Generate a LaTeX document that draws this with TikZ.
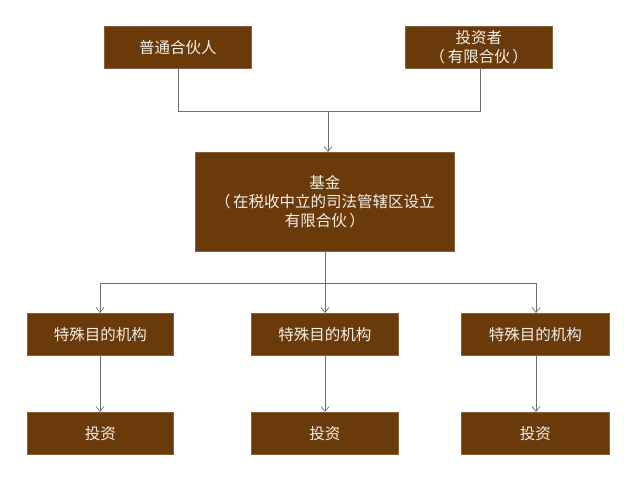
\documentclass[tikz,border=0pt]{standalone}
\usepackage{fontspec}
\setmainfont{Noto Sans CJK SC}
\usetikzlibrary{arrows.meta}
\definecolor{boxfill}{RGB}{106,58,10}
\definecolor{boxtext}{RGB}{245,240,232}
\definecolor{linec}{RGB}{110,110,110}
\begin{document}
\begin{tikzpicture}[x=1pt,y=-1pt,
  box/.style={draw=boxfill!80!white,line width=0.6pt,fill=boxfill,text=boxtext,font=\fontsize{15.5}{19}\selectfont,align=center,inner sep=0pt,anchor=north west},
  conn/.style={draw=linec,line width=0.8pt},
  arr/.style={conn,-{Straight Barb[length=5pt,width=8pt,line width=0.7pt]}}]
\useasboundingbox (0,0) rectangle (630,494);
\node[box,minimum width=147pt,minimum height=42pt] (gp) at (104,26) {普通合伙人};
\node[box,minimum width=147pt,minimum height=42pt] (lp) at (405,26) {投资者\\（\,有限合伙\,）};
\node[box,minimum width=259pt,minimum height=99pt] (fund) at (195,152) {基金\\（\,在税收中立的司法管辖区设立\\有限合伙\,）};
\node[box,minimum width=146pt,minimum height=42pt] (s1) at (27,313) {特殊目的机构};
\node[box,minimum width=147pt,minimum height=42pt] (s2) at (251,313) {特殊目的机构};
\node[box,minimum width=148pt,minimum height=42pt] (s3) at (461,313) {特殊目的机构};
\node[box,minimum width=146pt,minimum height=42pt] (i1) at (27,412) {投资};
\node[box,minimum width=147pt,minimum height=42pt] (i2) at (251,412) {投资};
\node[box,minimum width=148pt,minimum height=42pt] (i3) at (461,412) {投资};
\coordinate (jl) at (178,111);
\coordinate (jr) at (480,111);
\coordinate (jc) at (328,111);
\coordinate (hl) at (100,283);
\coordinate (hr) at (536,283);
\coordinate (hc) at (325,283);
\draw[conn] (gp.south -| jl) -- (jl) -- (jr) -- (lp.south -| jr);
\draw[arr] (jc) -- (fund.north -| jc);
\draw[conn] (fund.south -| hc) -- (hc);
\draw[conn] (hl) -- (hr);
\draw[arr] (hl) -- (s1.north -| hl);
\draw[arr] (hc) -- (s2.north -| hc);
\draw[arr] (hr) -- (s3.north -| hr);
\draw[arr] (s1.south -| hl) -- (i1.north -| hl);
\draw[arr] (s2.south -| hc) -- (i2.north -| hc);
\draw[arr] (s3.south -| hr) -- (i3.north -| hr);
\end{tikzpicture}
\end{document}
